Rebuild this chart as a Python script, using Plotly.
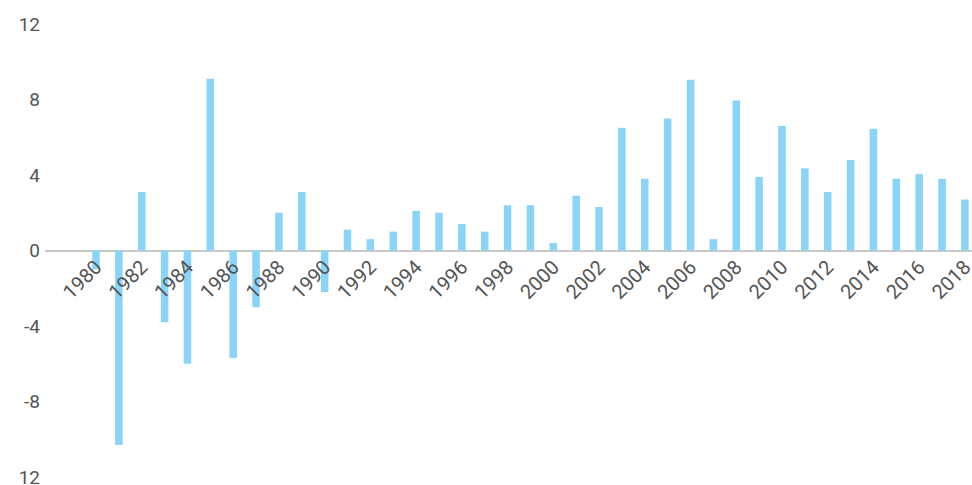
import plotly.graph_objects as go

years = list(range(1980, 2019))
values = [-1.0, -10.3, 3.1, -3.8, -6.0, 9.1, -5.7, -3.0, 2.0, 3.1,
          -2.2, 1.1, 0.6, 1.0, 2.1, 2.0, 1.4, 1.0, 2.4, 2.4,
          0.4, 2.9, 2.3, 6.5, 3.8, 7.0, 9.05, 0.6, 7.95, 3.9,
          6.6, 4.35, 3.1, 4.8, 6.45, 3.8, 4.05, 3.8, 2.7]

x_tick_vals = list(range(1980, 2019, 2))
x_tick_text = [str(y) for y in x_tick_vals]
y_tick_vals = [-12, -8, -4, 0, 4, 8, 12]
y_tick_text = ["12", "-8", "-4", "0", "4", "8", "12"]

font_family = "Roboto, sans-serif"

fig = go.Figure()
fig.add_trace(go.Bar(
    x=years, y=values, width=0.33,
    marker=dict(color="#8AD4F8", line=dict(width=0)),
    cliponaxis=False,
))

fig.update_layout(
    width=972, height=485,
    margin=dict(l=45, r=0, t=24, b=8),
    paper_bgcolor="white", plot_bgcolor="white",
    showlegend=False,
    font=dict(family=font_family, color="#555555", size=18),
    xaxis=dict(
        range=[1977.77, 2018.31],
        tickmode="array", tickvals=x_tick_vals, ticktext=x_tick_text,
        tickangle=-45, showgrid=False, showline=False, zeroline=False,
        anchor="free", position=0.5, automargin=False,
        ticklabeloverflow="allow",
        tickfont=dict(size=20, color="#555555"),
    ),
    yaxis=dict(
        range=[-12, 12],
        tickmode="array", tickvals=y_tick_vals, ticktext=y_tick_text,
        showgrid=False, showline=False, automargin=False,
        ticklabeloverflow="allow",
        zeroline=True, zerolinecolor="#c8c8c8", zerolinewidth=1.5,
        tickfont=dict(size=19, color="#555555"),
        ticklabelstandoff=4,
    ),
)

fig.write_html("out.html", config={"displayModeBar": False},
               post_script="document.body.style.margin='0';document.body.style.overflow='hidden';")
